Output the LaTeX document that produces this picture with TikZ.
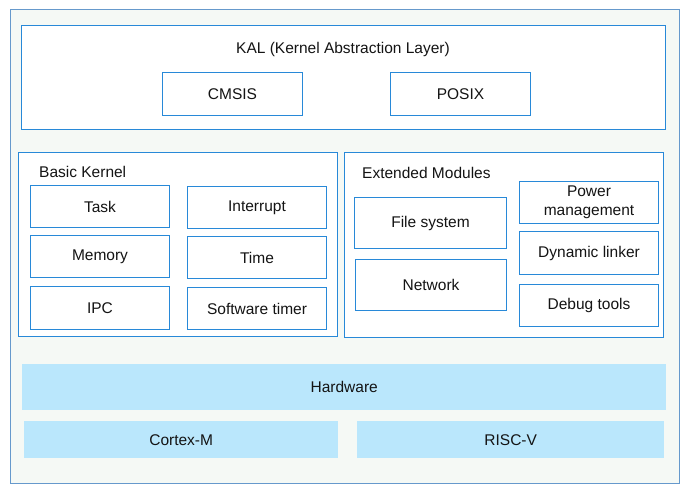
\documentclass[tikz,border=0pt]{standalone}
\usepackage{fontspec}
\setmainfont{Liberation Sans}
\definecolor{bgc}{RGB}{245,249,245}
\definecolor{outerc}{RGB}{102,153,204}
\definecolor{linec}{RGB}{40,137,216}
\definecolor{hwc}{RGB}{186,231,252}
\definecolor{txtc}{RGB}{20,20,20}
\begin{document}
\begin{tikzpicture}[x=1pt,y=-1pt,
  every node/.style={font=\fontsize{15.5}{19}\selectfont, text=txtc},
  frame/.style={draw=outerc, line width=1pt, fill=bgc},
  group/.style={draw=linec, line width=1pt, fill=white},
  box/.style={draw=linec, line width=1pt, fill=white, anchor=north west, inner sep=0pt, align=center},
  hw/.style={fill=hwc, draw=none, anchor=north west, inner sep=0pt}
]
\useasboundingbox (0,0) rectangle (687,492);
\draw[frame] (10,10) rectangle (679,483);
% KAL
\draw[group] (21,26) rectangle (665,129);
\node (kal) at (343,49.5) {KAL (Kernel Abstraction Layer)};
\node[box, minimum width=140pt, minimum height=43pt] (cmsis) at (162,72) {CMSIS};
\node[box, minimum width=140pt, minimum height=43pt] (posix) at (390,72) {POSIX};
% Basic Kernel
\draw[group] (18,152) rectangle (337,336);
\node[anchor=west, inner sep=0pt] (bk) at (39,172) {Basic Kernel};
\node[box, minimum width=139pt, minimum height=42pt] (task) at (30,185) {Task};
\node[box, minimum width=139pt, minimum height=42pt] (intr) at (187,186) {Interrupt};
\node[box, minimum width=139pt, minimum height=42pt] (mem) at (30,235) {Memory};
\node[box, minimum width=139pt, minimum height=42pt] (time) at (187,236) {Time};
\node[box, minimum width=139pt, minimum height=43pt] (ipc) at (30,286) {IPC};
\node[box, minimum width=139pt, minimum height=42pt] (swt) at (187,287) {Software timer};
% Extended Modules
\draw[group] (344,152) rectangle (663,337);
\node[anchor=west, inner sep=0pt] (em) at (362,173) {Extended Modules};
\node[box, minimum width=152pt, minimum height=51pt] (fs) at (354,197) {File system};
\node[box, minimum width=151pt, minimum height=51pt] (net) at (355,259) {Network};
\node[box, minimum width=139pt, minimum height=42pt] (pm) at (519,181) {Power\\management};
\node[box, minimum width=139pt, minimum height=43pt] (dl) at (519,231) {Dynamic linker};
\node[box, minimum width=139pt, minimum height=42pt] (dbg) at (519,284) {Debug tools};
% Hardware
\node[hw, minimum width=644pt, minimum height=46pt] (hwn) at (22,364) {Hardware};
\node[hw, minimum width=314pt, minimum height=37pt] (cm) at (24,421) {Cortex-M};
\node[hw, minimum width=307pt, minimum height=37pt] (rv) at (357,421) {RISC-V};
\end{tikzpicture}
\end{document}
